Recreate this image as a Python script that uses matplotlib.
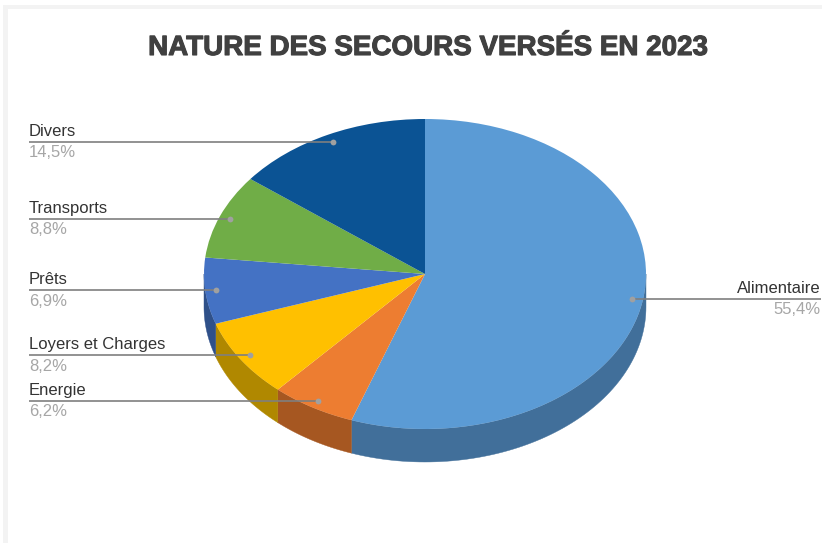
import numpy as np
import matplotlib
matplotlib.use("Agg")
import matplotlib.pyplot as plt
import matplotlib.patheffects as pe
from matplotlib.patches import Rectangle

labels = ["Alimentaire", "Energie", "Loyers et Charges", "Prêts", "Transports", "Divers"]
values = [55.4, 6.2, 8.2, 6.9, 8.8, 14.5]
value_labels = ["55,4%", "6,2%", "8,2%", "6,9%", "8,8%", "14,5%"]

top_colors = ["#5B9BD5", "#ED7D31", "#FFC000", "#4472C4", "#70AD47", "#0B5394"]
side_colors = ["#416F9A", "#A65721", "#B08800", "#2F5089", "#4E7932", "#083A68"]

# pie ellipse, in pixels of the 822x543 picture
cx, cy, rx, ry = 425, 274, 221, 155
depth = 33 / ry
W, H = 822, 543


def px(x, y):
    return (x - cx) / rx, (cy - y) / ry


fig = plt.figure(figsize=(W / 100, H / 100), dpi=100)
ax = fig.add_axes([0, 0, 1, 1])

ax.pie(values, colors=top_colors, startangle=90, counterclock=False,
       radius=1, center=(0, 0), wedgeprops={"linewidth": 0, "zorder": 3})
ax.set_aspect("auto")
ax.set_xlim(px(0, 0)[0], px(W, 0)[0])
ax.set_ylim(px(0, H)[1], px(0, 0)[1])
ax.axis("off")

# grey frame of the screenshot
for x, y, w, h in [(3, 5, 819, 4), (3, 5, 5, 538)]:
    x0, y0 = px(x, y + h)
    ax.add_patch(Rectangle((x0, y0), w / rx, h / ry, color="#F3F3F3", lw=0, zorder=0))

# side wall of the 3d pie, only the front half shows
edges = np.cumsum([0] + values) / 100 * 360
for i in range(len(values)):
    a0 = max(edges[i], 90)
    a1 = min(edges[i + 1], 270)
    if a1 <= a0:
        continue
    t = np.radians(np.linspace(a0, a1, 80))
    xs = np.sin(t)
    ys = np.cos(t)
    ax.fill(np.r_[xs, xs[::-1]], np.r_[ys, ys[::-1] - depth],
            color=side_colors[i], lw=0.3, zorder=2)

# leader lines and labels
mids = (edges[:-1] + edges[1:]) / 2
for i, mid in enumerate(mids):
    t = np.radians(mid)
    dx, dy = 0.95 * np.sin(t), 0.95 * np.cos(t)
    right = dx > 0
    x_end = px(821 if right else 29, 0)[0]
    ax.plot([x_end, dx], [dy, dy], color="#7F7F7F", lw=1.2, zorder=4,
            solid_capstyle="butt")
    ax.plot(dx, dy, "o", color="#A0A0A0", ms=4.2, mew=0, zorder=5)
    ha = "right" if right else "left"
    ax.annotate(labels[i], (x_end, dy), xytext=(0, 2.0), textcoords="offset points",
                ha=ha, va="bottom", family="Liberation Sans", fontsize=12, color="#333333", zorder=6)
    ax.annotate(value_labels[i], (x_end, dy), xytext=(0, -2.5), textcoords="offset points",
                ha=ha, va="top", family="Liberation Sans", fontsize=12, color="#A6A6A6", zorder=6)

tx, ty = px(428, 48)
ax.text(tx, ty, "NATURE DES SECOURS VERSÉS EN 2023", ha="center", va="center",
        family="Liberation Sans", weight="bold", fontsize=20, color="#404040",
        path_effects=[pe.withStroke(linewidth=0.8, foreground="#404040")], zorder=6)

fig.savefig("out.png", dpi=100)
